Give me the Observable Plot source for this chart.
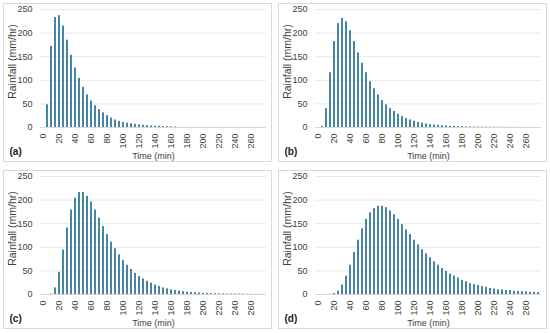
<!DOCTYPE html>
<html>
<head>
<meta charset="utf-8">
<script src="https://cdn.jsdelivr.net/npm/d3@7"></script>
<script src="https://cdn.jsdelivr.net/npm/@observablehq/plot@0.6"></script>
<style>
  html, body { margin: 0; padding: 0; background: #ffffff; }
  #wrap { position: relative; width: 550px; height: 333px; background: #fff; }
  .panel { position: absolute; width: 269px; height: 159px; box-sizing: border-box; border: 1px solid #d9d9d9; background: #fff; }
  .panel svg { display: block; }
</style>
</head>
<body>
<div id="wrap">
  <div class="panel" id="pa" style="left:3px;top:3px"></div>
  <div class="panel" id="pb" style="left:278px;top:3px"></div>
  <div class="panel" id="pc" style="left:3px;top:170px"></div>
  <div class="panel" id="pd" style="left:278px;top:170px"></div>
</div>
<script>
// Categories: time (min)
const times = [0,5,10,15,20,25,30,35,40,45,50,55,60,65,70,75,80,85,90,95,
  100,105,110,115,120,125,130,135,140,145,150,155,160,165,170,175,180,185,190,195,
  200,205,210,215,220,225,230,235,240,245,250,255,260,265,270,275];
const xTicks = [0,20,40,60,80,100,120,140,160,180,200,220,240,260];
const yTicks = [0,50,100,150,200,250];
const xTitle = "Time (min)";
const yTitle = "Rainfall (mm/hr)";
const letters = ["(a)", "(b)", "(c)", "(d)"];

// Rainfall (mm/hr) per panel, one value per time category
const rainA = [0,48,172,233,237,215,185,153,126,104,85,69,56,46,38,31,25,20,16,13,
  11,9,8,6.5,5.5,4.5,4,3.3,2.8,2.4,2,1.7,1.4,1.2,0,0,0,0,0,0,
  0,0,0,0,0,0,0,0,0,0,0,0,0,0,0,0];
const rainB = [0,2,40,116,182,220,231,224,205,182,158,136,116,97,82,69,57,48,40,34,
  28,23,19,16,13,11,9,7.5,6.3,5.3,4.5,3.8,3.2,2.7,2.3,2,1.7,1.4,1.2,1,
  0.9,0.8,0.7,0.6,0.5,0.45,0.4,0.35,0.3,0.27,0.24,0.2,0.18,0.16,0.14,0];
const rainC = [0,0,1,14,47,94,141,179,204,216,216,208,196,179,162,144,127,111,97,84,
  72,62,53,45,38,33,28,24,20,17,14,12,10,8.5,7.2,6,5.2,4.4,3.7,3.2,
  2.7,2.3,2,1.7,1.5,1.3,1.1,1,0.9,0.8,0.7,0.6,0.5,0.45,0.4,0.35];
const rainD = [0,0,0,0.5,2,7,20,39,62,89,115,139,159,173,182,187,187,184,177,169,
  159,148,137,127,115,105,95,86,78,69,62,55,49,43,39,35,30,27,23,21,
  19,17,15,13,11.5,10,9.5,8.5,8,7,6.5,6,5.5,5,4.7,4.3];

const barColor = "#4686a1";
const textColor = "#404040";

function panel(vals, letter) {
  const data = times.map((t, i) => ({t, v: vals[i]}));
  return Plot.plot({
    width: 267,
    height: 157,
    marginLeft: 36,
    marginRight: 5,
    marginTop: 5,
    marginBottom: 34,
    style: {fontFamily: "'Liberation Sans', Arial, sans-serif", fontSize: "9px", color: textColor, background: "#fff", overflow: "visible"},
    x: {type: "band", domain: times, paddingInner: 0.5, paddingOuter: 0.25, label: null},
    y: {domain: [0, 250], label: null},
    marks: [
      Plot.gridY(yTicks.filter(d => d > 0), {stroke: "#e8e8e8", strokeOpacity: 1}),
      Plot.ruleY([0], {stroke: "#d6d6d6"}),
      Plot.barY(data, {x: "t", y: "v", fill: barColor}),
      Plot.axisX(xTicks, {tickSize: 0, tickPadding: 6, tickRotate: -90, label: null, fill: textColor}),
      Plot.axisY(yTicks, {tickSize: 0, tickPadding: 8, label: null, fill: textColor}),
      Plot.text([xTitle], {frameAnchor: "bottom", dy: 29, lineAnchor: "middle", textAnchor: "middle", fill: textColor, fontSize: 9}),
      Plot.text([yTitle], {frameAnchor: "left", dx: -28, dy: -7, rotate: -90, lineAnchor: "middle", textAnchor: "middle", fill: textColor, fontSize: 10.5}),
      Plot.text([letter], {frameAnchor: "bottom-left", dx: -31, dy: 24, lineAnchor: "middle", textAnchor: "start", fontWeight: "bold", fontSize: 10, fill: "#222"})
    ]
  });
}

document.getElementById("pa").appendChild(panel(rainA, letters[0]));
document.getElementById("pb").appendChild(panel(rainB, letters[1]));
document.getElementById("pc").appendChild(panel(rainC, letters[2]));
document.getElementById("pd").appendChild(panel(rainD, letters[3]));
</script>
</body>
</html>
